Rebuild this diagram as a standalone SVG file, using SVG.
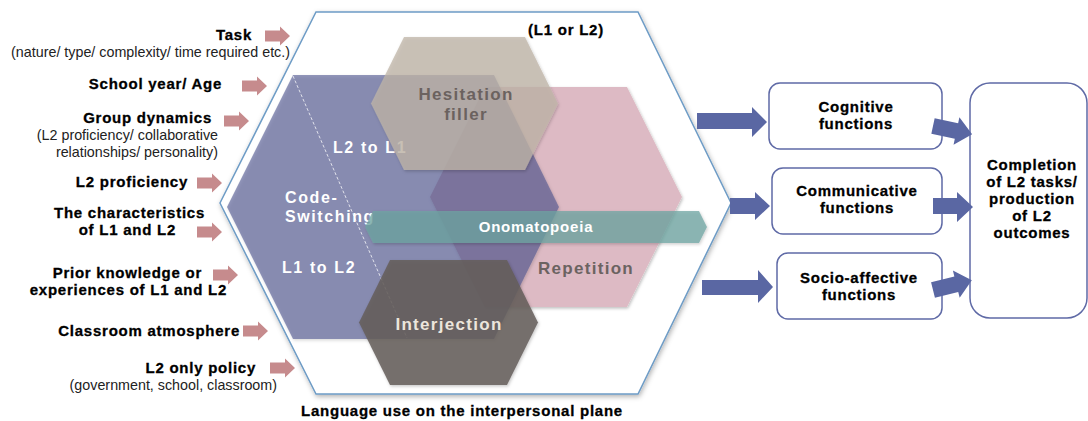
<svg xmlns="http://www.w3.org/2000/svg" width="1088" height="421" viewBox="0 0 1088 421">
<defs>
<filter id="sh" x="-10%" y="-10%" width="120%" height="120%">
<feDropShadow dx="1" dy="2" stdDeviation="2.5" flood-color="#000" flood-opacity="0.3"/>
</filter>
<filter id="sh2" x="-10%" y="-10%" width="120%" height="120%">
<feDropShadow dx="1" dy="1.5" stdDeviation="1.5" flood-color="#000" flood-opacity="0.25"/>
</filter>
<path id="la" d="M0,-5.5 H15 V-9.5 L25,0 L15,9.5 V5.5 H0 Z"/>
</defs>
<style>
text{font-family:"Liberation Sans",Arial,sans-serif;}
.b{font-weight:bold;font-size:15px;letter-spacing:0.75px;fill:#000;stroke:#000;stroke-width:0.3px;}
.r{font-size:14.3px;fill:#222;}
.la{fill:#c68b8d;}
.ra{fill:#5a67a3;}
.box{fill:#fff;stroke:#5f6aa6;stroke-width:1.5;}
.lbl{font-weight:bold;font-size:17px;letter-spacing:1.3px;}
.w{font-weight:bold;font-size:16px;letter-spacing:1.6px;fill:#fff;}
</style>

<!-- Left factor nodes -->
<g id="factor-task">
<text class="b" x="252" y="40" text-anchor="end">Task</text>
<text class="r" x="290" y="57" text-anchor="end">(nature/ type/ complexity/ time required etc.)</text>
</g>
<g id="factor-school">
<text class="b" x="222" y="89" text-anchor="end">School year/ Age</text>
</g>
<g id="factor-group">
<text class="b" x="212" y="123" text-anchor="end">Group dynamics</text>
<text class="r" x="218" y="140" text-anchor="end">(L2 proficiency/ collaborative</text>
<text class="r" x="218" y="157" text-anchor="end">relationships/ personality)</text>
</g>
<g id="factor-proficiency">
<text class="b" x="188" y="187" text-anchor="end">L2 proficiency</text>
</g>
<g id="factor-characteristics">
<text class="b" x="205" y="218" text-anchor="end">The characteristics</text>
<text class="b" x="176" y="235" text-anchor="end">of L1 and L2</text>
</g>
<g id="factor-prior">
<text class="b" x="202" y="278" text-anchor="end">Prior knowledge or</text>
<text class="b" x="227" y="295" text-anchor="end">experiences of L1 and L2</text>
</g>
<g id="factor-atmosphere">
<text class="b" x="240" y="336" text-anchor="end">Classroom atmosphere</text>
</g>
<g id="factor-policy">
<text class="b" x="256" y="373" text-anchor="end">L2 only policy</text>
<text class="r" x="277" y="390" text-anchor="end">(government, school, classroom)</text>
</g>

<!-- Central plane -->
<g id="plane">
<polygon points="316,12 638,12 731,203 638,394 316,394 220,203" fill="#fff" stroke="#6e9cc6" stroke-width="1.5" filter="url(#sh)"/>
<text class="b" x="566" y="35" text-anchor="middle">(L1 or L2)</text>
<text class="b" x="462" y="416" text-anchor="middle">Language use on the interpersonal plane</text>
</g>

<g id="repetition">
<polygon points="485,87 627,87 682,197 627,307 485,307 430,197" fill="#ddbac4" filter="url(#sh2)"/>
</g>
<g id="code-switching">
<polygon points="293,75 494,75 559,207 494,339 293,339 227,207" fill="#4b548e" fill-opacity="0.6" filter="url(#sh2)"/>
<line x1="293" y1="76" x2="407" y2="338" stroke="#fff" stroke-width="1" stroke-dasharray="3,2" opacity="0.75"/>
<text class="w" x="285" y="203">Code-</text>
<text class="w" x="285" y="222">Switching</text>
<text class="w" x="333" y="153">L2 to L1</text>
<text class="w" x="282" y="273">L1 to L2</text>
</g>
<g id="hesitation">
<polygon points="404,37 525,37 558,103.5 525,170 404,170 371,103.5" fill="#c0b6a8" fill-opacity="0.76" filter="url(#sh2)"/>
<text class="lbl" x="466" y="100" text-anchor="middle" fill="#6b625f">Hesitation</text>
<text class="lbl" x="466" y="120" text-anchor="middle" fill="#6b625f">filler</text>
</g>
<g id="repetition-label">
<text class="lbl" x="586" y="274" text-anchor="middle" fill="#6b6361">Repetition</text>
</g>
<g id="interjection">
<polygon points="390,260 507,260 538,322.5 507,385 390,385 359,322.5" fill="#645d5a" fill-opacity="0.85" filter="url(#sh2)"/>
<text class="lbl" x="449" y="330" text-anchor="middle" fill="#ece6dc">Interjection</text>
</g>
<g id="onomatopoeia">
<polygon points="373,211 699,211 707,227 699,243 373,243 365,227" fill="#6da5a2" fill-opacity="0.74" filter="url(#sh2)"/>
<text x="536" y="232" text-anchor="middle" style="font-weight:bold;font-size:15px;letter-spacing:0.8px" fill="#fff">Onomatopoeia</text>
</g>

<!-- Function boxes -->
<g id="cognitive">
<rect class="box" x="769" y="83" width="173" height="66" rx="11"/>
<text class="b" x="856" y="112" text-anchor="middle">Cognitive</text>
<text class="b" x="856" y="129" text-anchor="middle">functions</text>
</g>
<g id="communicative">
<rect class="box" x="772" y="168" width="170" height="66" rx="11"/>
<text class="b" x="857" y="196" text-anchor="middle">Communicative</text>
<text class="b" x="857" y="213" text-anchor="middle">functions</text>
</g>
<g id="socio-affective">
<rect class="box" x="777" y="253" width="165" height="66" rx="11"/>
<text class="b" x="859" y="283" text-anchor="middle">Socio-affective</text>
<text class="b" x="859" y="300" text-anchor="middle">functions</text>
</g>
<g id="completion">
<rect class="box" x="970" y="83" width="117" height="235" rx="20"/>
<text class="b" x="1032" y="170" text-anchor="middle">Completion</text>
<text class="b" x="1032" y="187" text-anchor="middle">of L2 tasks/</text>
<text class="b" x="1032" y="204" text-anchor="middle">production</text>
<text class="b" x="1032" y="221" text-anchor="middle">of L2</text>
<text class="b" x="1032" y="238" text-anchor="middle">outcomes</text>
</g>

<!-- Connectors -->
<g id="connectors">
<use href="#la" class="la" transform="translate(265,36)"/>
<use href="#la" class="la" transform="translate(242,86)"/>
<use href="#la" class="la" transform="translate(224,121)"/>
<use href="#la" class="la" transform="translate(197,183)"/>
<use href="#la" class="la" transform="translate(197,232)"/>
<use href="#la" class="la" transform="translate(213,275)"/>
<use href="#la" class="la" transform="translate(243,331)"/>
<use href="#la" class="la" transform="translate(270,368)"/>

<path class="ra" d="M697,113 H752 V107 L767,122 L752,137 V129 H697 Z"/>
<path class="ra" d="M730,198 H755 V192 L770,206 L755,220 V214 H730 Z"/>
<path class="ra" d="M702,280 H758 V270 L773,287 L758,303 V295 H702 Z"/>

<path class="ra" d="M0,-8 H24 V-14 L40,0 L24,14 V8 H0 Z" transform="translate(933,126) rotate(12)"/>
<path class="ra" d="M933,198 H957 V192 L973,207 L957,222 V214 H933 Z"/>
<path class="ra" d="M0,-8 H24 V-14 L40,0 L24,14 V8 H0 Z" transform="translate(933,290) rotate(-14)"/>
</g>
</svg>
